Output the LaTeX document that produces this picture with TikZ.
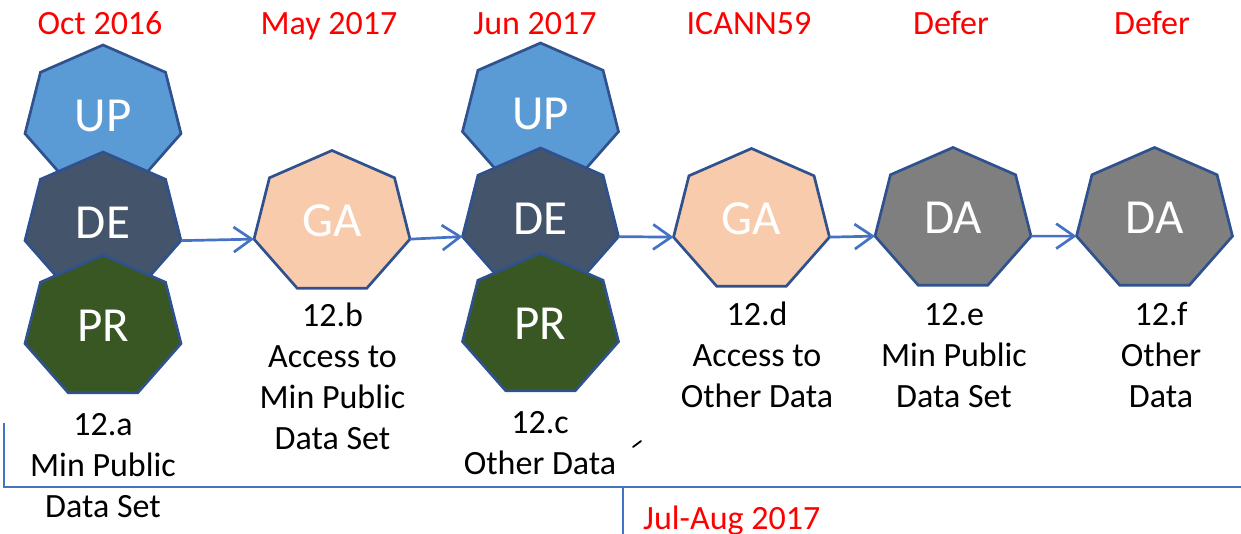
\documentclass[tikz,border=0pt]{standalone}
\usepackage{fontspec}
\setmainfont{Carlito}
\usetikzlibrary{arrows.meta}
\definecolor{upc}{HTML}{5B9BD5}
\definecolor{dec}{HTML}{44546A}
\definecolor{prc}{HTML}{385723}
\definecolor{gac}{HTML}{F8CBAD}
\definecolor{dac}{HTML}{7F7F7F}
\definecolor{bordc}{HTML}{2F528F}
\definecolor{arrc}{HTML}{4472C4}
\definecolor{redc}{HTML}{FF0000}
\tikzset{
  hept/.style={draw=bordc, line width=2.7pt, line join=miter},
  heptlbl/.style={text=white, font=\fontsize{49}{58}\selectfont, inner sep=0pt},
  conn/.style={draw=arrc, line width=2.7pt, -{Straight Barb[length=18pt,width=25pt,line width=2.7pt]}},
  rule/.style={draw=arrc, line width=2.6pt},
  datelbl/.style={text=redc, font=\fontsize{34}{41}\selectfont, inner sep=0pt, anchor=base},
  desc/.style={font=\fontsize{34}{41}\selectfont, align=center, inner sep=0pt, anchor=north},
}
\newcommand\heptshape[5]{%
  \begin{scope}[shift={(#2,#3)}]
    \draw[hept,fill=#4] (-90:80 and 72.5) \foreach \k in {1,...,6}{ -- (-90+\k*360/7:80 and 72.5)} -- cycle;
    \coordinate (#1-l) at (-90+5*360/7:80 and 72.5);
    \coordinate (#1-r) at (-90+2*360/7:80 and 72.5);
    \node[heptlbl] (#1) at (0,-2) {#5};
  \end{scope}}
\begin{document}
\begin{tikzpicture}[x=1pt,y=-1pt]
\useasboundingbox (0,0) rectangle (1241,534);
% column 1
\heptshape{up1}{103}{117.5}{upc}{UP}
\heptshape{de1}{103}{224.5}{dec}{DE}
\heptshape{pr1}{103}{327.5}{prc}{PR}
% column 2
\heptshape{ga1}{332}{223}{gac}{GA}
% column 3
\heptshape{up2}{540.5}{115.5}{upc}{UP}
\heptshape{de2}{540.5}{220.5}{dec}{DE}
\heptshape{pr2}{540.5}{325.5}{prc}{PR}
% column 4-6
\heptshape{ga2}{751.5}{221}{gac}{GA}
\heptshape{da1}{953}{220}{dac}{DA}
\heptshape{da2}{1154.5}{220}{dac}{DA}
% connectors
\draw[conn] (de1-r) -- (ga1-l);
\draw[conn] (ga1-r) -- (de2-l);
\draw[conn] (de2-r) -- (ga2-l);
\draw[conn] (ga2-r) -- (da1-l);
\draw[conn] (da1-r) -- (da2-l);
% dates
\node[datelbl] (d1) at (100,35) {Oct 2016};
\node[datelbl] (d2) at (329,35) {May 2017};
\node[datelbl] (d3) at (535,35) {Jun 2017};
\node[datelbl] (d4) at (749,35) {ICANN59};
\node[datelbl] (d5) at (951,35) {Defer};
\node[datelbl] (d6) at (1152,35) {Defer};
% descriptions
\node[desc] (t12a) at (103,406.3) {\strut 12.a\\\strut Min Public\\\strut Data Set};
\node[desc] (t12b) at (332.5,297.3) {\strut 12.b\\\strut Access to\\\strut Min Public\\\strut Data Set};
\node[desc] (t12c) at (540,404.3) {\strut 12.c\\\strut Other Data};
\node[desc] (t12d) at (757,296.3) {\strut 12.d\\\strut Access to\\\strut Other Data};
\node[desc] (t12e) at (954,296.3) {\strut 12.e\\\strut Min Public\\\strut Data Set};
\node[desc] (t12f) at (1161,296.3) {\strut 12.f\\\strut Other\\\strut Data};
% timeline rules
\coordinate (ra) at (4,423);
\coordinate (rb) at (4,487);
\coordinate (rc) at (1241,487);
\coordinate (rd) at (623,487);
\coordinate (re) at (623,534);
\draw[rule] (ra) -- (rb) -- (rc);
\draw[rule] (rd) -- (re);
\node[datelbl, anchor=base west] (d7) at (643,529) {Jul-Aug 2017};
% stray tick
\coordinate (ka) at (633,447);
\coordinate (kb) at (641,441);
\draw[line width=1.8pt, line cap=round] (ka) -- (kb);
\end{tikzpicture}
\end{document}
